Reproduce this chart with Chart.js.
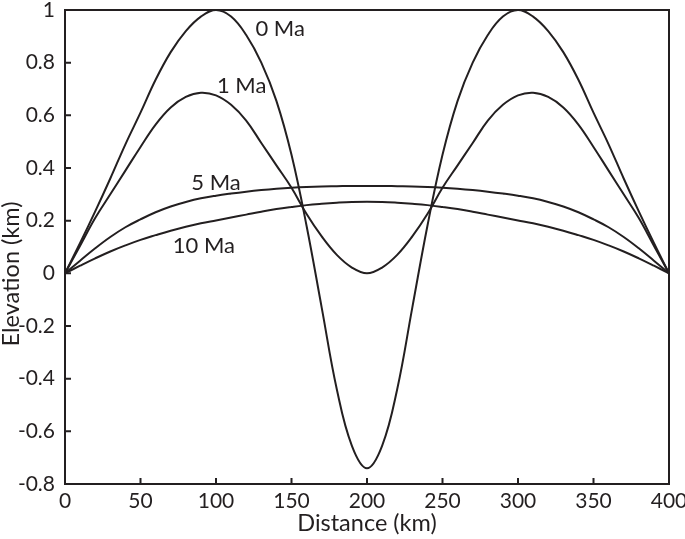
<!DOCTYPE html>
<html>
<head>
<meta charset="utf-8">
<script src="https://cdn.jsdelivr.net/npm/chart.js@4.4.0/dist/chart.umd.min.js"></script>
<style>
  html, body { margin: 0; padding: 0; background: #fff; }
  #caja { width: 685px; height: 539px; }
</style>
</head>
<body>
<div id="caja"><canvas id="grafica"></canvas></div>
<script>
// distancia en km, cada 10 km
const distancia = [0, 10, 20, 30, 40, 50, 60, 70, 80, 90, 100, 110, 120, 130, 140, 150, 160, 170, 180, 190, 200,
    210, 220, 230, 240, 250, 260, 270, 280, 290, 300, 310, 320, 330, 340, 350, 360, 370, 380, 390, 400];

const elev0Ma = [0, 0.115, 0.235, 0.36, 0.49, 0.61, 0.735, 0.84, 0.92, 0.975, 1.0, 0.975, 0.905, 0.80, 0.655, 0.45, 0.18, -0.13, -0.44, -0.655, -0.74,
    -0.655, -0.44, -0.13, 0.18, 0.45, 0.655, 0.80, 0.905, 0.975, 1.0, 0.975, 0.92, 0.84, 0.735, 0.61, 0.49, 0.36, 0.235, 0.115, 0];
const elev1Ma = [0, 0.105, 0.21, 0.30, 0.39, 0.48, 0.565, 0.63, 0.67, 0.686, 0.676, 0.64, 0.58, 0.495, 0.41, 0.325, 0.225, 0.14, 0.07, 0.022, 0,
    0.022, 0.07, 0.14, 0.225, 0.325, 0.41, 0.495, 0.58, 0.64, 0.676, 0.686, 0.67, 0.63, 0.565, 0.48, 0.39, 0.30, 0.21, 0.105, 0];
const elev5Ma = [0, 0.048, 0.095, 0.138, 0.175, 0.205, 0.232, 0.254, 0.271, 0.285, 0.295, 0.303, 0.31, 0.316, 0.321, 0.325, 0.328, 0.33, 0.331, 0.332, 0.332,
    0.332, 0.331, 0.33, 0.328, 0.325, 0.321, 0.316, 0.31, 0.303, 0.295, 0.285, 0.271, 0.254, 0.232, 0.205, 0.175, 0.138, 0.095, 0.048, 0];
const elev10Ma = [0, 0.029, 0.057, 0.083, 0.106, 0.127, 0.145, 0.162, 0.177, 0.19, 0.201, 0.212, 0.223, 0.234, 0.244, 0.252, 0.259, 0.264, 0.268, 0.271, 0.272,
    0.271, 0.268, 0.264, 0.259, 0.252, 0.244, 0.234, 0.223, 0.212, 0.201, 0.19, 0.177, 0.162, 0.145, 0.127, 0.106, 0.083, 0.057, 0.029, 0];

// ticks de los ejes
const xTicks = [0, 50, 100, 150, 200, 250, 300, 350, 400];
const xTickLabels = ['0', '50', '100', '150', '200', '250', '300', '350', '400'];
const yTicks = [-0.8, -0.6, -0.4, -0.2, 0, 0.2, 0.4, 0.6, 0.8, 1];
const yTickLabels = ['-0.8', '-0.6', '-0.4', '-0.2', '0', '0.2', '0.4', '0.6', '0.8', '1'];

// etiquetas de cada curva (posicion en unidades de los datos)
const etiquetas = ['0 Ma', '1 Ma', '5 Ma', '10 Ma'];
const etiquetaX = [142.5, 117, 100, 92];
const etiquetaY = [0.93, 0.71, 0.345, 0.103];

const negro = '#231f20';
const fuente = 'Lato, "Open Sans", sans-serif';

function puntos(valores) {
    return distancia.map((d, i) => ({ x: d, y: valores[i] }));
}

function serie(valores) {
    return {
        data: puntos(valores),
        borderColor: negro,
        borderWidth: 2,
        pointRadius: 0,
        fill: false,
        tension: 0.4
    };
}

//marco, ticks hacia dentro, etiquetas y titulos
const extras = {
    id: 'extras',
    afterDraw(chart) {
        const ctx = chart.ctx;
        const a = chart.chartArea;
        const sx = chart.scales.x;
        const sy = chart.scales.y;
        ctx.save();
        ctx.strokeStyle = negro;
        ctx.lineWidth = 2;
        ctx.strokeRect(a.left, a.top, a.right - a.left, a.bottom - a.top);

        ctx.beginPath();
        xTicks.forEach(v => {
            const p = sx.getPixelForValue(v);
            ctx.moveTo(p, a.bottom);
            ctx.lineTo(p, a.bottom - 6);
        });
        yTicks.forEach(v => {
            const p = sy.getPixelForValue(v);
            ctx.moveTo(a.left, p);
            ctx.lineTo(a.left + 6, p);
        });
        ctx.stroke();

        ctx.fillStyle = negro;
        ctx.font = '22px ' + fuente;
        ctx.textAlign = 'center';
        ctx.textBaseline = 'middle';
        etiquetas.forEach((t, i) => {
            ctx.fillText(t, sx.getPixelForValue(etiquetaX[i]), sy.getPixelForValue(etiquetaY[i]));
        });

        ctx.font = '23.5px ' + fuente;
        ctx.fillText('Distance (km)', (a.left + a.right) / 2, 523);
        ctx.translate(11, 274);
        ctx.rotate(-Math.PI / 2);
        ctx.fillText('Elevation (km)', 0, 0);
        ctx.restore();
    }
};

const config = {
    type: 'line',
    data: {
        datasets: [serie(elev0Ma), serie(elev1Ma), serie(elev5Ma), serie(elev10Ma)]
    },
    options: {
        responsive: true,
        maintainAspectRatio: false,
        animation: false,
        devicePixelRatio: 1,
        layout: { padding: { top: 10, right: 16, left: 0, bottom: 0 } },
        plugins: {
            legend: { display: false },
            tooltip: { enabled: false }
        },
        scales: {
            x: {
                type: 'linear',
                min: 0,
                max: 400,
                grid: { display: false, drawTicks: false },
                border: { display: false },
                afterBuildTicks: s => { s.ticks = xTicks.map(v => ({ value: v })); },
                afterFit: s => { s.height = 55; s.paddingLeft = 0; s.paddingRight = 0; },
                ticks: {
                    autoSkip: false,
                    maxRotation: 0,
                    padding: 5,
                    color: negro,
                    font: { size: 21, family: fuente },
                    callback: (v, i) => xTickLabels[i]
                }
            },
            y: {
                type: 'linear',
                min: -0.8,
                max: 1,
                grid: { display: false, drawTicks: false },
                border: { display: false },
                afterBuildTicks: s => { s.ticks = yTicks.map(v => ({ value: v })); },
                afterFit: s => { s.width = 65; s.paddingTop = 0; s.paddingBottom = 0; },
                ticks: {
                    autoSkip: false,
                    padding: 10,
                    color: negro,
                    font: { size: 21, family: fuente },
                    callback: (v, i) => yTickLabels[i]
                }
            }
        }
    },
    plugins: [extras]
};

const miGrafica = new Chart(document.getElementById('grafica'), config);
</script>
</body>
</html>
